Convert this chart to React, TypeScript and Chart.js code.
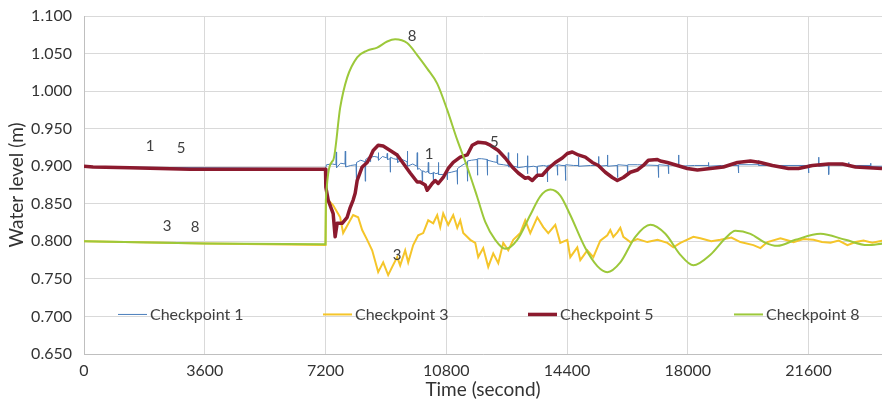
import React, { useEffect, useRef } from "react";
import { Chart, registerables } from "chart.js";

Chart.register(...registerables);

// ---------- Data ----------
const seriesNames = ["Checkpoint 1", "Checkpoint 3", "Checkpoint 5", "Checkpoint 8"];
const seriesColors = ["#4a7ebb", "#f5c52a", "#8c1a2e", "#9cc83a"];

const xTickValues = [0, 3600, 7200, 10800, 14400, 18000, 21600];

// Checkpoint 1 (thin blue with spikes)
const cp1Time = [
  0, 3600, 7200, 7230, 7400,
  7510, 7520, 7530, 7650,
  7780, 7790, 7800, 7950,
  8110, 8120, 8130, 8250,
  8375, 8385, 8395, 8460,
  8525, 8535, 8545, 8650,
  8765, 8775, 8785, 8900,
  9030, 9040, 9050, 9125, 9130, 9140, 9230,
  9330, 9340, 9350, 9480,
  9630, 9640, 9650, 9800,
  9925, 9935, 9945, 10000,
  10075, 10085, 10095, 10180,
  10255, 10265, 10275, 10340,
  10405, 10415, 10425, 10490,
  10555, 10565, 10575, 10700,
  10822, 10832, 10842, 10950,
  11120, 11130, 11140, 11300,
  11420, 11430, 11440, 11550,
  11720, 11730, 11740, 11850,
  12015, 12025, 12035, 12200,
  12310, 12320, 12330, 12500,
  12640, 12650, 12660, 12800,
  12910, 12920, 12930, 13100,
  13210, 13220, 13225, 13235, 13400,
  13505, 13515, 13525, 13700,
  13805, 13815, 13825, 14000,
  14105, 14115, 14125, 14250,
  14345, 14355, 14365, 14600,
  14730, 14740, 14750, 15100,
  15330, 15340, 15350,
  15595, 15605, 15615,
  15895, 15905, 15915,
  16195, 16205, 16215,
  16500,
  17115, 17125, 17135,
  17415, 17425, 17435,
  17715, 17725, 17735,
  18200,
  18605, 18615, 18625,
  19000,
  19500, 19510, 19520,
  20100, 20110, 20120,
  21590, 21600, 21610,
  21890, 21900, 21910,
  22190, 22200, 22210,
  22785, 22795, 22805,
  23440, 23450, 23460,
  23800,
];
const cp1Level = [
  0.899, 0.898, 0.897, 0.902, 0.903,
  0.902, 0.919, 0.898, 0.904,
  0.903, 0.920, 0.899, 0.901,
  0.902, 0.876, 0.905, 0.908,
  0.906, 0.880, 0.909, 0.911,
  0.910, 0.906, 0.912, 0.913,
  0.912, 0.918, 0.908, 0.913,
  0.911, 0.917, 0.909, 0.910, 0.892, 0.912, 0.910,
  0.909, 0.917, 0.905, 0.909,
  0.906, 0.920, 0.900, 0.903,
  0.900, 0.918, 0.896, 0.897,
  0.893, 0.880, 0.894, 0.892,
  0.893, 0.905, 0.891, 0.890,
  0.891, 0.878, 0.892, 0.890,
  0.891, 0.905, 0.889, 0.889,
  0.890, 0.882, 0.891, 0.892,
  0.894, 0.876, 0.897, 0.902,
  0.905, 0.880, 0.907, 0.908,
  0.909, 0.888, 0.910, 0.910,
  0.909, 0.888, 0.908, 0.906,
  0.905, 0.915, 0.903, 0.902,
  0.901, 0.918, 0.899, 0.900,
  0.899, 0.917, 0.898, 0.899,
  0.900, 0.914, 0.890, 0.899, 0.900,
  0.899, 0.885, 0.900, 0.901,
  0.900, 0.879, 0.901, 0.902,
  0.901, 0.888, 0.902, 0.901,
  0.901, 0.881, 0.902, 0.901,
  0.901, 0.912, 0.900, 0.901,
  0.901, 0.913, 0.900,
  0.901, 0.915, 0.900,
  0.901, 0.885, 0.902,
  0.901, 0.888, 0.902,
  0.902,
  0.901, 0.885, 0.902,
  0.901, 0.890, 0.902,
  0.901, 0.915, 0.900,
  0.901,
  0.901, 0.905, 0.900,
  0.901,
  0.901, 0.891, 0.902,
  0.902, 0.908, 0.901,
  0.901, 0.891, 0.902,
  0.901, 0.912, 0.900,
  0.901, 0.889, 0.902,
  0.901, 0.905, 0.901,
  0.901, 0.904, 0.900,
  0.900,
];

// Checkpoint 3 (yellow, jagged)
const cp3Time = [
  0, 3600, 7200, 7215, 7428, 7637, 7726, 7935, 8024, 8173, 8293, 8442, 8591,
  8770, 8919, 9068, 9188, 9337, 9426, 9575, 9665, 9814, 9963, 10112, 10262,
  10411, 10530, 10620, 10709, 10858, 11007, 11127, 11216, 11306, 11515, 11664,
  11753, 11902, 12051, 12200, 12350, 12499, 12648, 12797, 13006, 13155, 13304,
  13513, 13692, 13841, 14050, 14199, 14408, 14497, 14706, 14796, 15005, 15184,
  15392, 15601, 15690, 15780, 15899, 15989, 16079, 16287, 16500, 16794, 17100,
  17391, 17570, 17779, 18166, 18375, 18700, 18972, 19300, 19568, 19956, 20165,
  20374, 20762, 21150, 21450, 21747, 22000, 22254, 22500, 22760, 23000, 23238,
  23500, 23800,
];
const cp3Level = [
  0.800, 0.797, 0.795, 0.858, 0.848, 0.832, 0.811, 0.828, 0.835, 0.832, 0.815, 0.802, 0.788,
  0.759, 0.772, 0.755, 0.766, 0.779, 0.768, 0.788, 0.772, 0.795, 0.808, 0.811, 0.828,
  0.824, 0.835, 0.819, 0.837, 0.822, 0.835, 0.818, 0.828, 0.811, 0.802, 0.798,
  0.779, 0.791, 0.766, 0.784, 0.771, 0.798, 0.788, 0.802, 0.811, 0.828, 0.811,
  0.832, 0.819, 0.811, 0.822, 0.798, 0.802, 0.779, 0.792, 0.775, 0.788, 0.779,
  0.801, 0.808, 0.815, 0.806, 0.812, 0.818, 0.806, 0.799, 0.803, 0.799, 0.802,
  0.798, 0.792, 0.798, 0.806, 0.804, 0.800, 0.802, 0.805, 0.799, 0.795, 0.791,
  0.799, 0.804, 0.799, 0.803, 0.802, 0.799, 0.798, 0.801, 0.795, 0.799, 0.801,
  0.798, 0.801,
];

// Checkpoint 5 (thick dark red)
const cp5Time = [
  0, 270, 1370, 3160, 7200, 7210, 7279, 7428, 7487, 7547, 7696, 7845, 7935,
  8024, 8084, 8144, 8293, 8442, 8531, 8621, 8770, 8919, 9128, 9337, 9516,
  9725, 9933, 10023, 10172, 10232, 10381, 10470, 10560, 10709, 10858, 11007,
  11216, 11425, 11574, 11753, 11962, 12111, 12350, 12558, 12767, 12946, 13155,
  13245, 13364, 13513, 13662, 13841, 14050, 14259, 14408, 14557, 14736, 14945,
  15154, 15333, 15541, 15750, 15899, 16079, 16287, 16496, 16675, 16824, 17093,
  17182, 17391, 17689, 17987, 18286, 18674, 19061, 19479, 19867, 20165, 20523,
  21000, 21299, 21716, 22194, 22611, 23000, 23790,
];
const cp5Level = [
  0.900, 0.899, 0.898, 0.896, 0.896, 0.872, 0.855, 0.837, 0.806, 0.824, 0.824, 0.832, 0.845,
  0.855, 0.864, 0.881, 0.899, 0.905, 0.912, 0.921, 0.928, 0.927, 0.921, 0.915, 0.904,
  0.891, 0.879, 0.879, 0.875, 0.868, 0.877, 0.881, 0.877, 0.885, 0.897, 0.905,
  0.912, 0.915, 0.928, 0.932, 0.931, 0.928, 0.921, 0.911, 0.899, 0.891, 0.884,
  0.885, 0.881, 0.888, 0.888, 0.897, 0.905, 0.911, 0.917, 0.919, 0.915, 0.912,
  0.905, 0.901, 0.892, 0.885, 0.881, 0.885, 0.892, 0.895, 0.901, 0.908, 0.909,
  0.907, 0.905, 0.901, 0.897, 0.895, 0.897, 0.899, 0.905, 0.907, 0.905, 0.901,
  0.897, 0.897, 0.901, 0.903, 0.903, 0.899, 0.897,
];

// Checkpoint 8 (smooth yellow-green)
const cp8Time = [
  0, 1200, 3600, 7200, 7210, 7428, 7637, 7845, 8144, 8442, 8740, 9038, 9277,
  9635, 9933, 10232, 10530, 10828, 11127, 11425, 11723, 11962, 12260, 12558,
  12916, 13304, 13602, 13901, 14199, 14497, 14945, 15303, 15601, 15989, 16436,
  16884, 17331, 17779, 18167, 18674, 19121, 19419, 19867, 20314, 20672, 21209,
  21955, 22700, 23357, 23800,
];
const cp8Level = [
  0.800, 0.799, 0.797, 0.796, 0.855, 0.908, 0.978, 1.018, 1.045, 1.054, 1.058, 1.066, 1.069,
  1.064, 1.048, 1.030, 1.010, 0.975, 0.935, 0.899, 0.859, 0.826, 0.802, 0.790,
  0.802, 0.835, 0.860, 0.869, 0.861, 0.835, 0.791, 0.767, 0.759, 0.772, 0.806,
  0.822, 0.810, 0.782, 0.768, 0.782, 0.804, 0.814, 0.810, 0.798, 0.794, 0.802,
  0.810, 0.802, 0.795, 0.797,
];

// In-plot number labels
const labelText = ["1", "5", "3", "8", "8", "1", "5", "3"];
const labelTime = [1969, 2894, 2476, 3311, 9784, 10291, 12230, 9337];
const labelLevel = [0.9266, 0.924, 0.820, 0.819, 1.073, 0.916, 0.932, 0.782];

const legendLevel = 0.7;

const FONT = "Lato, 'Open Sans', sans-serif";

function zip(t: number[], v: number[]) {
  return t.map((x, i) => ({ x, y: v[i] }));
}

const overlayPlugin = {
  id: "overlay",
  afterDatasetsDraw(chart: any) {
    const { ctx, chartArea, scales } = chart;
    const x = scales.x;
    const y = scales.y;
    ctx.save();
    ctx.font = `15px ${FONT}`;
    ctx.fillStyle = "#404040";
    ctx.textAlign = "center";
    ctx.textBaseline = "middle";
    labelText.forEach((t, i) => {
      ctx.fillText(t, x.getPixelForValue(labelTime[i]), y.getPixelForValue(labelLevel[i]));
    });
    // legend inside the plot
    const ly = y.getPixelForValue(legendLevel) - 2;
    const offsets = [34, 239, 444, 650];
    const widths = [1, 2, 3.5, 2];
    ctx.font = `16px ${FONT}`;
    ctx.textAlign = "left";
    seriesNames.forEach((name, i) => {
      const sx = chartArea.left + offsets[i];
      ctx.strokeStyle = seriesColors[i];
      ctx.lineWidth = widths[i];
      ctx.beginPath();
      ctx.moveTo(sx, ly);
      ctx.lineTo(sx + 29, ly);
      ctx.stroke();
      ctx.fillStyle = "#404040";
      ctx.fillText(name, sx + 32, ly);
    });
    ctx.restore();
  },
};

export default function App() {
  const canvasRef = useRef<HTMLCanvasElement | null>(null);

  useEffect(() => {
    if (!canvasRef.current) return;
    const chart = new Chart(canvasRef.current, {
      type: "line",
      data: {
        datasets: [
          {
            label: seriesNames[0],
            data: zip(cp1Time, cp1Level),
            borderColor: seriesColors[0],
            borderWidth: 1,
            pointRadius: 0,
            tension: 0,
            order: 4,
          },
          {
            label: seriesNames[1],
            data: zip(cp3Time, cp3Level),
            borderColor: seriesColors[1],
            borderWidth: 2,
            pointRadius: 0,
            tension: 0,
            order: 3,
          },
          {
            label: seriesNames[2],
            data: zip(cp5Time, cp5Level),
            borderColor: seriesColors[2],
            borderWidth: 3.5,
            pointRadius: 0,
            tension: 0,
            borderJoinStyle: "round",
            order: 2,
          },
          {
            label: seriesNames[3],
            data: zip(cp8Time, cp8Level),
            borderColor: seriesColors[3],
            borderWidth: 2,
            pointRadius: 0,
            cubicInterpolationMode: "monotone",
            order: 1,
          },
        ] as any,
      },
      options: {
        animation: false,
        responsive: true,
        maintainAspectRatio: false,
        layout: { padding: { top: 16, right: 0, left: 0, bottom: 0 } },
        plugins: {
          legend: { display: false },
          tooltip: { enabled: false },
        },
        scales: {
          x: {
            type: "linear",
            min: 0,
            max: 23790,
            afterBuildTicks: (scale: any) => {
              scale.ticks = xTickValues.map((v) => ({ value: v }));
            },
            afterFit: (scale: any) => {
              scale.height = 50;
              scale.paddingRight = 0;
            },
            grid: { color: "#d9d9d9", drawTicks: false, lineWidth: 1 },
            border: { color: "#bfbfbf" },
            ticks: {
              color: "#333333",
              font: { family: FONT, size: 16 },
              padding: 7,
              maxRotation: 0,
              callback: (v: any) => String(v),
            },
            title: {
              display: true,
              text: "Time (second)",
              color: "#333333",
              font: { family: FONT, size: 19 },
              padding: { top: 0, bottom: 3 },
            },
          },
          y: {
            type: "linear",
            min: 0.65,
            max: 1.1,
            afterFit: (scale: any) => {
              scale.width = 84;
              scale.paddingTop = 0;
              scale.paddingBottom = 0;
            },
            grid: { color: "#d9d9d9", drawTicks: false, lineWidth: 1 },
            border: { color: "#bfbfbf" },
            ticks: {
              stepSize: 0.05,
              color: "#333333",
              font: { family: FONT, size: 16 },
              padding: 12,
              callback: (v: any) => Number(v).toFixed(3),
            },
            title: {
              display: true,
              text: "Water level (m)",
              color: "#333333",
              font: { family: FONT, size: 19 },
              padding: { top: 5, bottom: 0 },
            },
          },
        },
      },
      plugins: [overlayPlugin],
    });
    return () => chart.destroy();
  }, []);

  return (
    <div style={{ position: "fixed", left: 0, top: 0, width: 882, height: 404, background: "#fff" }}>
      <canvas ref={canvasRef} />
    </div>
  );
}
